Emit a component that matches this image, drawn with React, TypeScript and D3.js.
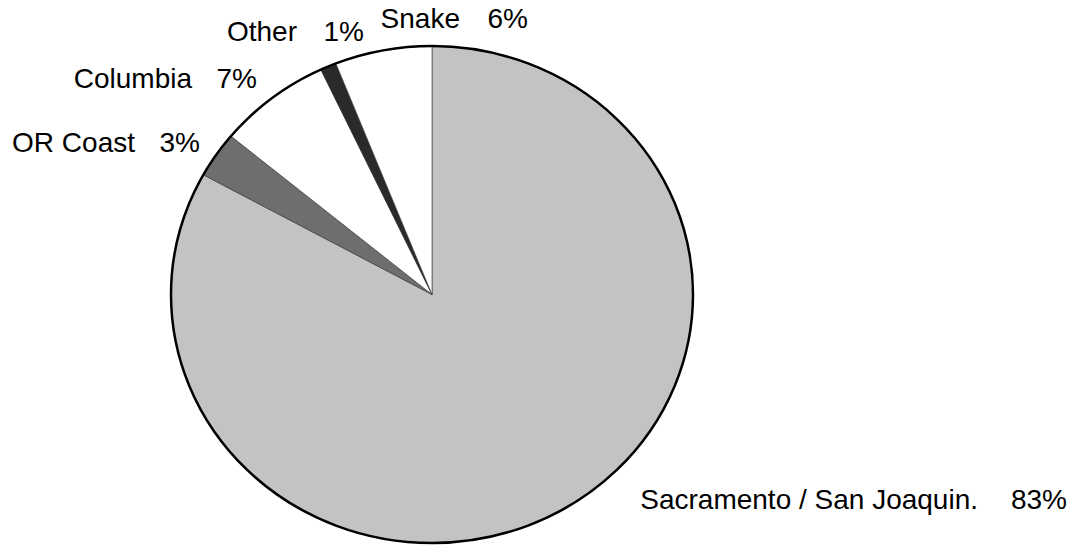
import React from "react";
import * as d3 from "d3";

// Data (clockwise from 12 o'clock)
const categories = ["Sacramento / San Joaquin.", "OR Coast", "Columbia", "Other", "Snake"];
const percents = [83, 3, 7, 1, 6];
const pctLabels = ["83%", "3%", "7%", "1%", "6%"];
const fills = ["#c3c3c3", "#6e6e6e", "#ffffff", "#2a2a2a", "#ffffff"];

// Layout (label anchor points: right ends of name and percentage, baseline)
const labelLayout: Record<string, { nameX: number; pctX: number; y: number }> = {
  "Sacramento / San Joaquin.": { nameX: 978, pctX: 1067, y: 509 },
  "OR Coast": { nameX: 135, pctX: 200, y: 152 },
  "Columbia": { nameX: 192, pctX: 257, y: 88 },
  "Other": { nameX: 297, pctX: 364, y: 41 },
  "Snake": { nameX: 460, pctX: 528, y: 28 },
};

const W = 1087;
const H = 545;
const cx = 432;
const cy = 294.5;
const rx = 261;
const ry = 248.5;

export default function App() {
  const items = categories.map((c, i) => ({ name: c, value: percents[i], pct: pctLabels[i], fill: fills[i] }));
  const pie = d3.pie<any>().sort(null).value((d: any) => d.value).startAngle(0).endAngle(2 * Math.PI);
  const arcs = pie(items);
  const arc = d3.arc<any>().innerRadius(0).outerRadius(rx);
  const font = "'Liberation Sans', Arial, Helvetica, sans-serif";

  return (
    <div style={{ position: "absolute", left: 0, top: 0 }}>
      <svg width={W} height={H} style={{ display: "block", background: "#fff" }}>
        <g transform={`translate(${cx},${cy}) scale(1,${ry / rx})`}>
          {arcs.map((a, i) => (
            <path
              key={i}
              d={arc(a) as string}
              fill={a.data.fill}
              stroke="#333"
              strokeWidth={0.6}
              vectorEffect="non-scaling-stroke"
            />
          ))}
          <ellipse cx={0} cy={0} rx={rx} ry={rx} fill="none" stroke="#000" strokeWidth={2.5} vectorEffect="non-scaling-stroke" />
        </g>
        {items.map((d, i) => {
          const l = labelLayout[d.name];
          return (
            <g key={i} fontFamily={font} fontSize={28} fill="#000">
              <text x={l.nameX} y={l.y} textAnchor="end">{d.name}</text>
              <text x={l.pctX} y={l.y} textAnchor="end">{d.pct}</text>
            </g>
          );
        })}
      </svg>
    </div>
  );
}
